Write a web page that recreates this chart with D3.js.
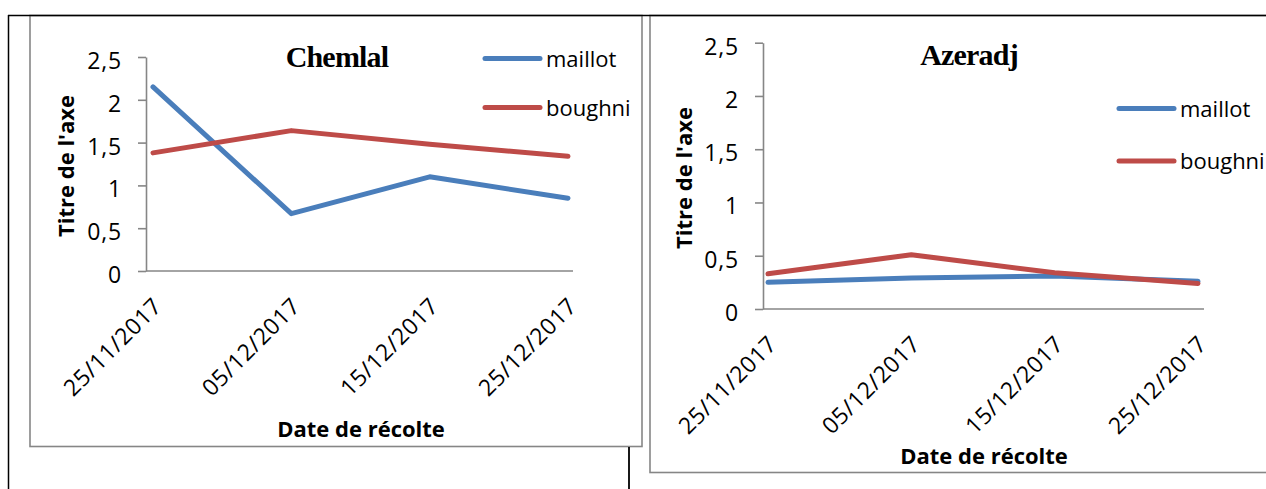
<!DOCTYPE html>
<html>
<head>
<meta charset="utf-8">
<script src="https://cdn.jsdelivr.net/npm/d3@7"></script>
<style>
  html, body { margin: 0; padding: 0; background: #ffffff; }
  svg { display: block; }
  text { font-family: "Open Sans", sans-serif; fill: #000; }
</style>
</head>
<body>
<svg id="chart" width="1266" height="489"></svg>
<script>
// ---------- data ----------
const categories = ["25/11/2017", "05/12/2017", "15/12/2017", "25/12/2017"];
const seriesNames = ["maillot", "boughni"];
const chemlalMaillot = [2.15, 0.67, 1.10, 0.85];
const chemlalBoughni = [1.38, 1.64, 1.48, 1.34];
const azeradjMaillot = [0.25, 0.29, 0.31, 0.26];
const azeradjBoughni = [0.33, 0.51, 0.34, 0.24];
const yTicks = [0, 0.5, 1, 1.5, 2, 2.5];
const yTickLabels = ["0", "0,5", "1", "1,5", "2", "2,5"];
const chartTitles = ["Chemlal", "Azeradj"];
const yAxisTitle = "Titre de l'axe";
const xAxisTitle = "Date de récolte";

// ---------- styles ----------
const seriesColors = ["#4A7EBB", "#BE4B48"];
const axisColor = "#868686";

const svg = d3.select("#chart");
svg.append("rect").attr("width", 1266).attr("height", 489).attr("fill", "#fff");

// chart frames (gray)
svg.append("rect").attr("x", 30).attr("y", 15.5).attr("width", 612).attr("height", 431)
  .attr("fill", "none").attr("stroke", axisColor).attr("stroke-width", 1.6);
svg.append("rect").attr("x", 650).attr("y", 15.5).attr("width", 640).attr("height", 457)
  .attr("fill", "none").attr("stroke", axisColor).attr("stroke-width", 1.6);

// black page lines
svg.append("line").attr("x1", 8).attr("x2", 1266).attr("y1", 15.5).attr("y2", 15.5)
  .attr("stroke", "#000").attr("stroke-width", 1.5);
svg.append("line").attr("x1", 8.5).attr("x2", 8.5).attr("y1", 15).attr("y2", 489)
  .attr("stroke", "#000").attr("stroke-width", 1.5);
svg.append("line").attr("x1", 629).attr("x2", 629).attr("y1", 447).attr("y2", 489)
  .attr("stroke", "#000").attr("stroke-width", 1.8);

function drawChart(cfg) {
  const g = svg.append("g");
  const x = d3.scalePoint().domain(categories).range(cfg.catRange);
  const y = d3.scaleLinear().domain([0, 2.5]).range([cfg.y0, cfg.yTop]);

  // y axis
  const yAxis = d3.axisLeft(y).tickValues(yTicks)
    .tickFormat((d, i) => yTickLabels[i]).tickSize(8).tickPadding(16).tickSizeOuter(0);
  const ya = g.append("g").attr("transform", `translate(${cfg.axisX},0)`).call(yAxis);
  ya.select(".domain").attr("stroke", axisColor).attr("stroke-width", 1.6);
  ya.selectAll(".tick line").attr("stroke", axisColor).attr("stroke-width", 1.6);
  ya.selectAll(".tick text").attr("font-size", 23).attr("font-family", "Open Sans")
    .attr("letter-spacing", 0.8)
    .attr("dy", "0.5em").attr("fill", "#000");

  // x axis baseline
  g.append("line").attr("x1", cfg.axisX).attr("x2", cfg.xEnd)
    .attr("y1", y(0)).attr("y2", y(0))
    .attr("stroke", axisColor).attr("stroke-width", 1.6);

  // x axis labels
  const xAxis = d3.axisBottom(x).tickSize(0).tickPadding(0);
  const xa = g.append("g").attr("transform", `translate(0,${y(0)})`).call(xAxis);
  xa.select(".domain").remove();
  xa.selectAll(".tick text")
    .attr("font-size", 23).attr("font-family", "Open Sans").attr("fill", "#000")
    .attr("letter-spacing", 0.5)
    .attr("text-anchor", "end")
    .attr("dy", "0.35em")
    .attr("transform", "translate(4,31) rotate(-45)")
    .attr("y", 0);

  // lines
  const lineGen = d3.line().x((d, i) => x(categories[i])).y(d => y(d));
  cfg.series.forEach((vals, si) => {
    g.append("path").datum(vals)
      .attr("d", lineGen)
      .attr("fill", "none")
      .attr("stroke", seriesColors[si])
      .attr("stroke-width", 5)
      .attr("stroke-linecap", "round")
      .attr("stroke-linejoin", "round");
  });

  // title
  g.append("text").attr("x", cfg.titleX).attr("y", cfg.titleY)
    .attr("text-anchor", "middle")
    .style("font-family", "'Liberation Serif', serif")
    .attr("font-weight", "bold").attr("font-size", 30)
    .attr("letter-spacing", -0.8)
    .text(cfg.title);

  // y axis title
  g.append("text")
    .attr("transform", `translate(${cfg.yTitleX},${cfg.yTitleY}) rotate(-90)`)
    .attr("text-anchor", "middle").attr("dy", "0.35em")
    .attr("font-weight", "bold").attr("font-size", 22)
    .text(yAxisTitle);

  // x axis title
  g.append("text").attr("x", cfg.xTitleX).attr("y", cfg.xTitleY)
    .attr("text-anchor", "middle")
    .attr("font-weight", "bold").attr("font-size", 22)
    .text(xAxisTitle);

  // legend
  seriesNames.forEach((name, si) => {
    const ly = cfg.legendY[si];
    g.append("line").attr("x1", cfg.legendX).attr("x2", cfg.legendX + 55)
      .attr("y1", ly).attr("y2", ly)
      .attr("stroke", seriesColors[si]).attr("stroke-width", 5)
      .attr("stroke-linecap", "round");
    g.append("text").attr("x", cfg.legendX + 61).attr("y", ly).attr("dy", "0.38em")
      .attr("font-size", 22).text(name);
  });
}

drawChart({
  title: chartTitles[0],
  series: [chemlalMaillot, chemlalBoughni],
  catRange: [153, 568], axisX: 146, xEnd: 573, y0: 271, yTop: 57,
  titleX: 337, titleY: 67,
  yTitleX: 66, yTitleY: 166,
  xTitleX: 361, xTitleY: 437,
  legendX: 485, legendY: [58.5, 107.5]
});

drawChart({
  title: chartTitles[1],
  series: [azeradjMaillot, azeradjBoughni],
  catRange: [768, 1198], axisX: 763, xEnd: 1204, y0: 309, yTop: 42.7,
  titleX: 969, titleY: 65,
  yTitleX: 684, yTitleY: 178,
  xTitleX: 984, xTitleY: 464,
  legendX: 1119, legendY: [108.5, 161]
});
</script>
</body>
</html>
